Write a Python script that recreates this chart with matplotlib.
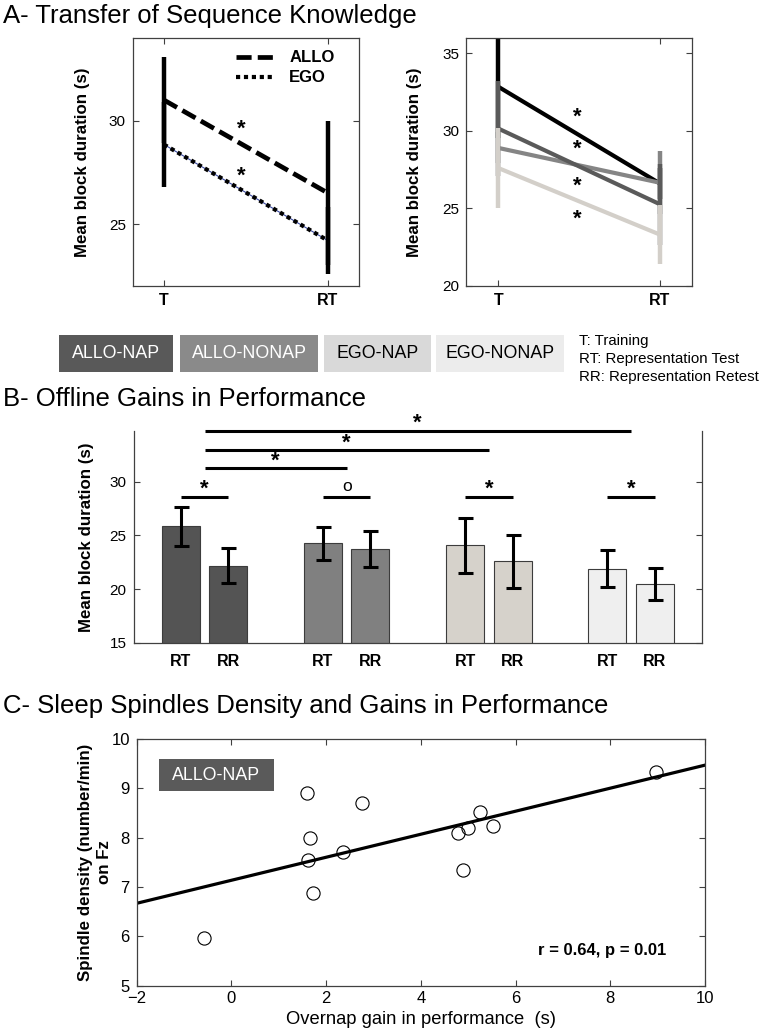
import matplotlib
matplotlib.use('Agg')
import matplotlib.pyplot as plt
from matplotlib.lines import Line2D
from matplotlib.patches import Rectangle
import numpy as np

plt.rcParams['font.family'] = ['Liberation Sans', 'DejaVu Sans']

# ---------------- data ----------------
# Panel A (left): ALLO vs EGO at Training (T) and Representation Test (RT)
sessions = ['T', 'RT']
allo_means = [31.0, 26.5]
allo_err = [2.1, 3.5]
ego_means = [28.85, 24.2]
ego_err = [2.05, 1.6]
allo_star_y = 29.6
ego_star_y = 27.3

# Panel A (right): four groups, drawn back to front
grp_colors = ['#000000', '#858585', '#5a5a5a', '#d3cfc9']
grp_T = [32.85, 28.9, 30.15, 27.6]
grp_RT = [26.6, 26.65, 25.26, 23.3]
grp_err_T = [3.3, 1.0, 3.05, 2.6]
grp_err_RT = [1.0, 2.05, 2.6, 1.9]
grp_star_y = [30.9, 28.8, 26.4, 24.3]

# Legend strip
legend_names = ['ALLO-NAP', 'ALLO-NONAP', 'EGO-NAP', 'EGO-NONAP']
legend_colors = ['#595959', '#8a8a8a', '#d9d9d9', '#ececec']
legend_text_colors = ['white', 'white', 'black', 'black']
abbrev_lines = ['T: Training', 'RT: Representation Test', 'RR: Representation Retest']

# Panel B
bar_colors = ['#545454', '#808080', '#d6d2cb', '#efefef']
rt_means = [25.84, 24.26, 24.07, 21.9]
rt_err = [1.83, 1.55, 2.55, 1.72]
rr_means = [22.2, 23.73, 22.58, 20.5]
rr_err = [1.65, 1.64, 2.45, 1.52]
pair_marks = ['*', 'o', '*', '*']
long_comparisons = [(1, 2), (1, 3), (1, 4)]

# Panel C
gain = [-0.57, 1.60, 1.66, 1.62, 1.72, 2.36, 2.75, 4.79, 5.00, 4.90, 5.24, 5.52, 8.96]
spindle = [5.97, 8.91, 7.99, 7.55, 6.87, 7.70, 8.71, 8.10, 8.19, 7.34, 8.52, 8.24, 9.33]
fit_x = [-2, 10]
fit_y = [6.67, 9.47]

# ---------------- figure ----------------
W, H = 759, 1032
fig = plt.figure(figsize=(W / 100, H / 100), dpi=100)


def rect(l, t, r, b):
    return [l / W, 1 - b / H, (r - l) / W, (b - t) / H]


SPC = '#404040'
TITLE_FS = 18.5
YLAB_FS = 12.2
TICK_FS = 11


def style_box(ax):
    for s in ax.spines.values():
        s.set_color(SPC)
        s.set_linewidth(0.9)
    ax.tick_params(direction='in', top=True, right=True, length=4,
                   color=SPC, labelsize=TICK_FS, pad=5)


# Section titles
fig.text(3 / W, 1 - 23 / H, 'A- Transfer of Sequence Knowledge', fontsize=TITLE_FS,
         ha='left', va='baseline')
fig.text(3 / W, 1 - 406 / H, 'B- Offline Gains in Performance', fontsize=TITLE_FS,
         ha='left', va='baseline')
fig.text(3 / W, 1 - 713 / H, 'C- Sleep Spindles Density and Gains in Performance',
         fontsize=TITLE_FS, ha='left', va='baseline')

# ---------------- Panel A left ----------------
axA = fig.add_axes(rect(132.7, 38, 359, 286))
xs = np.arange(len(sessions))
axA.plot(xs, allo_means, color='k', lw=3.4, ls=(0, (3.2, 1.3)), dash_capstyle='butt')
axA.plot(xs, ego_means, color='#3a4aa0', lw=0.8)
axA.plot(xs, ego_means, color='k', lw=3.0, ls=(0, (1.0, 0.9)))
axA.vlines(xs, np.array(allo_means) - allo_err, np.array(allo_means) + allo_err,
           color='k', lw=3.2)
axA.vlines(xs, np.array(ego_means) - ego_err, np.array(ego_means) + ego_err,
           color='k', lw=3.2)
axA.text(0.475, allo_star_y, '*', ha='center', va='center', fontsize=16, fontweight='bold')
axA.text(0.475, ego_star_y, '*', ha='center', va='center', fontsize=16, fontweight='bold')
axA.set_xlim(-0.19, 1.19)
axA.set_ylim(22, 34)
axA.set_yticks([25, 30])
axA.set_xticks(xs)
style_box(axA)
axA.set_xticklabels(sessions, fontweight='bold', fontsize=11.5)
axA.set_ylabel('Mean block duration (s)', fontweight='bold', fontsize=YLAB_FS)
axA.yaxis.set_label_coords((83 - 132.7) / 226.3, 0.5)
axA.yaxis.label.set_va('center')
hA = [Line2D([], [], color='k', lw=3.4, ls=(0, (3.2, 1.3))),
      Line2D([], [], color='k', lw=3.0, ls=(0, (1.0, 0.9)))]
axA.legend(hA, ['ALLO', 'EGO'], loc='upper left', bbox_to_anchor=(0.456, 0.95),
           frameon=False, borderpad=0, borderaxespad=0, handlelength=2.2,
           handletextpad=1.0, labelspacing=0.3,
           prop={'weight': 'bold', 'size': 12})

# ---------------- Panel A right ----------------
axR = fig.add_axes(rect(466, 38, 692.3, 285.7))
for c, t, rt, et, ert in zip(grp_colors, grp_T, grp_RT, grp_err_T, grp_err_RT):
    axR.plot(xs, [t, rt], color=c, lw=3.0, solid_capstyle='butt')
    axR.vlines(xs, [t - et, rt - ert], [t + et, rt + ert], color=c, lw=3.2)
for y in grp_star_y:
    axR.text(0.489, y, '*', ha='center', va='center', fontsize=16, fontweight='bold')
axR.set_xlim(-0.2, 1.2)
axR.set_ylim(20, 36)
axR.set_yticks([20, 25, 30, 35])
axR.set_xticks(xs)
style_box(axR)
axR.set_xticklabels(sessions, fontweight='bold', fontsize=11.5)
axR.set_ylabel('Mean block duration (s)', fontweight='bold', fontsize=YLAB_FS)
axR.yaxis.set_label_coords((415 - 466) / 226.3, 0.5)
axR.yaxis.label.set_va('center')

# ---------------- Legend strip ----------------
box_x = [(59, 173), (180, 318), (324, 431), (436, 564)]
for (x0, x1), name, fc, tc in zip(box_x, legend_names, legend_colors, legend_text_colors):
    fig.patches.append(Rectangle((x0 / W, 1 - 372 / H), (x1 - x0) / W, 37 / H,
                                 transform=fig.transFigure, facecolor=fc,
                                 edgecolor='none'))
    fig.text((x0 + x1) / 2 / W, 1 - 353.5 / H, name, color=tc, fontsize=12.8,
             ha='center', va='center')
for i, line in enumerate(abbrev_lines):
    fig.text(579 / W, 1 - (341 + 18 * i) / H, line, fontsize=10.8, ha='left', va='center')

# ---------------- Panel B ----------------
axB = fig.add_axes(rect(133.5, 430.7, 702, 643))
g = np.arange(1, 5)
off, bw = 0.167, 0.268
axB.bar(g - off, rt_means, width=bw, color=bar_colors, edgecolor='#3c3c3c', lw=0.8)
axB.bar(g + off, rr_means, width=bw, color=bar_colors, edgecolor='#3c3c3c', lw=0.8)
axB.errorbar(g - off, rt_means, yerr=rt_err, fmt='none', ecolor='k', elinewidth=2.2,
             capsize=5.4, capthick=2.2)
axB.errorbar(g + off, rr_means, yerr=rr_err, fmt='none', ecolor='k', elinewidth=2.2,
             capsize=5.4, capthick=2.2)
pair_y = 28.55
for gi, m in zip(g, pair_marks):
    axB.plot([gi - off, gi + off], [pair_y, pair_y], color='k', lw=2.2,
             solid_capstyle='butt')
    if m == '*':
        axB.text(gi, pair_y + 0.75, '*', ha='center', va='center', fontsize=16,
                 fontweight='bold')
    else:
        axB.text(gi, pair_y + 1.0, 'o', ha='center', va='center', fontsize=12.5)
long_y = [31.24, 32.95, 34.74]
for (a, b), y in zip(long_comparisons, long_y):
    axB.plot([a, b], [y, y], color='k', lw=2.2, solid_capstyle='butt', clip_on=False)
    axB.text((a + b) / 2, y + 0.65, '*', ha='center', va='center', fontsize=16,
             fontweight='bold', clip_on=False)
axB.set_xlim(0.5, 4.5)
axB.set_ylim(15, 34.74)
axB.set_yticks([15, 20, 25, 30])
xt = np.ravel(np.column_stack([g - off, g + off]))
axB.set_xticks(xt)
axB.set_xticklabels(['RT', 'RR'] * 4, fontweight='bold', fontsize=11.5)
for s in axB.spines.values():
    s.set_color(SPC)
    s.set_linewidth(0.9)
axB.spines['top'].set_visible(False)
axB.tick_params(axis='y', direction='in', right=True, length=4, color=SPC,
                labelsize=TICK_FS, pad=5)
axB.tick_params(axis='x', length=0, pad=8)
axB.set_ylabel('Mean block duration (s)', fontweight='bold', fontsize=YLAB_FS)
axB.yaxis.set_label_coords((86.7 - 133.5) / 568.5, 0.5)
axB.yaxis.label.set_va('center')

# ---------------- Panel C ----------------
axC = fig.add_axes(rect(136.7, 739, 705, 985.7))
axC.plot(fit_x, fit_y, color='k', lw=2.3)
axC.plot(gain, spindle, 'o', mfc='none', mec='k', ms=9.5, mew=0.8)
axC.set_xlim(-2, 10)
axC.set_ylim(5, 10)
axC.set_xticks(np.arange(-2, 11, 2))
axC.set_yticks(np.arange(5, 11, 1))
style_box(axC)
axC.tick_params(labelsize=12)
axC.tick_params(axis='y', pad=5)
axC.tick_params(axis='x', pad=4)
axC.set_xlabel('Overnap gain in performance  (s)', fontsize=13.2)
axC.xaxis.set_label_coords(0.5, -(1019 - 985.7) / 246.7)
axC.xaxis.label.set_va('center')
axC.set_ylabel('Spindle density (number/min)\non Fz', fontweight='bold', fontsize=YLAB_FS,
               linespacing=1.4)
axC.yaxis.set_label_coords((95 - 136.7) / 568.3, 0.5)
axC.yaxis.label.set_va('center')
axC.add_patch(Rectangle((0.039, 0.789), 0.2024, 0.130, transform=axC.transAxes,
                        facecolor='#5a5a5a', edgecolor='none'))
axC.text(0.039 + 0.1012, 0.854, 'ALLO-NAP', transform=axC.transAxes, color='white',
         fontsize=12.8, ha='center', va='center')
axC.text(0.819, 0.142, 'r = 0.64, p = 0.01', transform=axC.transAxes, fontsize=12,
         fontweight='bold', ha='center', va='center')

fig.savefig('out.png', dpi=100)
